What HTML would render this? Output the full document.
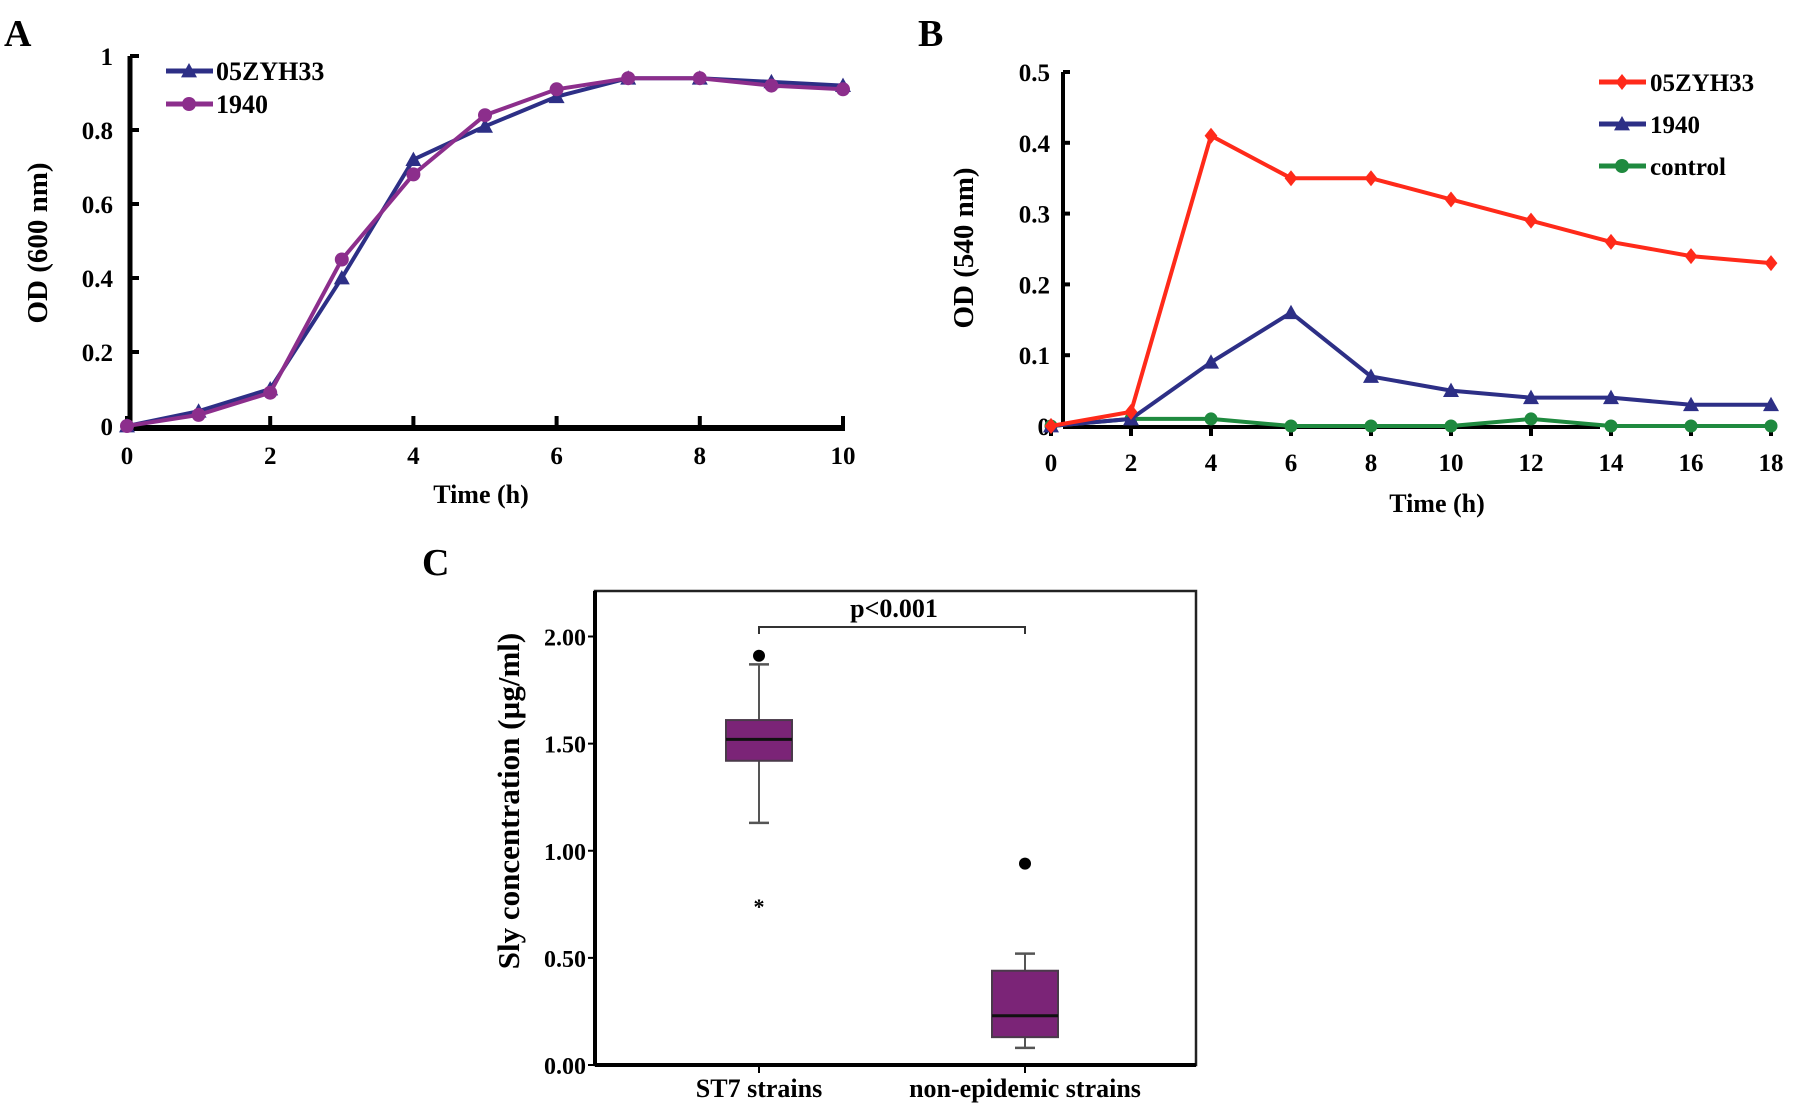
<!DOCTYPE html>
<html><head><meta charset="utf-8"><style>
html,body{margin:0;padding:0;background:#fff;}
svg{display:block;font-family:"Liberation Serif",serif;font-weight:bold;}
</style></head><body>
<svg id="fig" width="1795" height="1116" viewBox="0 0 1795 1116">
<text x="4" y="46" font-size="38">A</text>
<text x="918" y="46" font-size="38">B</text>
<text x="422" y="575" font-size="38">C</text>
<g id="A"></g>
<g id="B"></g>
<g id="C"></g>
</svg>
<script>
// Panel A data
const aTime=[0,1,2,3,4,5,6,7,8,9,10];
const aZYH=[0,0.04,0.10,0.40,0.72,0.81,0.89,0.94,0.94,0.93,0.92];
const a1940=[0,0.03,0.09,0.45,0.68,0.84,0.91,0.94,0.94,0.92,0.91];
const aYTicks=[0,0.2,0.4,0.6,0.8,1];
const aYTickLabels=["0","0.2","0.4","0.6","0.8","1"];
const aXTicks=[0,2,4,6,8,10];
// Panel B data
const bTime=[0,2,4,6,8,10,12,14,16,18];
const bZYH=[0,0.02,0.41,0.35,0.35,0.32,0.29,0.26,0.24,0.23];
const b1940=[0,0.01,0.09,0.16,0.07,0.05,0.04,0.04,0.03,0.03];
const bControl=[0,0.01,0.01,0,0,0,0.01,0,0,0];
const bYTicks=[0,0.1,0.2,0.3,0.4,0.5];
const bYTickLabels=["0","0.1","0.2","0.3","0.4","0.5"];
// Panel C data
const cCategories=["ST7 strains","non-epidemic strains"];
const cQ1=[1.42,0.13];
const cMedian=[1.52,0.23];
const cQ3=[1.61,0.44];
const cWhiskLow=[1.13,0.08];
const cWhiskHigh=[1.87,0.52];
const cOutlierDot=[1.91,0.94];
const cExtremeStar=[0.76,null];
const cYTicks=[0,0.5,1,1.5,2];
const cYTickLabels=["0.00","0.50","1.00","1.50","2.00"];

const NS="http://www.w3.org/2000/svg";
function mk(parent,tag,attrs,text){const e=document.createElementNS(NS,tag);for(const k in attrs)e.setAttribute(k,attrs[k]);if(text!==undefined)e.textContent=text;parent.appendChild(e);return e;}
function triangle(g,x,y,r,c){return mk(g,'polygon',{points:`${x},${y-r} ${x-r},${y+r*0.8} ${x+r},${y+r*0.8}`,fill:c});}
function diamond(g,x,y,r,c){return mk(g,'polygon',{points:`${x},${y-r} ${x+r*0.8},${y} ${x},${y+r} ${x-r*0.8},${y}`,fill:c});}

// ---------- Panel A ----------
(function(){
const g=document.getElementById('A');
const X=v=>127+v*(843-127)/10, Y=v=>426-v*(426-56);
let e;
e=mk(g,'line',{x1:X(0)+3,y1:Y(1),x2:X(0)+3,y2:Y(0)+3,stroke:'#000','stroke-width':5});

e=mk(g,'line',{x1:X(0),y1:Y(0)+2,x2:X(10)+2,y2:Y(0)+2,stroke:'#000','stroke-width':6});

aYTicks.forEach((t,i)=>{
 mk(g,'line',{x1:X(0)+3,y1:Y(t),x2:X(0)+12,y2:Y(t),stroke:'#000','stroke-width':4});
 e=mk(g,'text',{x:X(0)-14,y:Y(t)+9,'font-size':25,'text-anchor':'end'},aYTickLabels[i]);
 
});
aXTicks.forEach(t=>{
 mk(g,'line',{x1:X(t),y1:Y(0)-10,x2:X(t),y2:Y(0)+2,stroke:'#000','stroke-width':4});
 e=mk(g,'text',{x:X(t),y:Y(0)+38,'font-size':25,'text-anchor':'middle'},String(t));
 
});
e=mk(g,'text',{x:481,y:503,'font-size':26,'text-anchor':'middle'},'Time (h)');

e=mk(g,'text',{x:0,y:0,'font-size':29,'text-anchor':'middle',transform:'translate(47,243) rotate(-90)'},'OD (600 nm)');

const series=[[aZYH,'#2d2f86','tri','a-series-05zyh33'],[a1940,'#8c2e8c','dot','a-series-1940']];
series.forEach(([d,c,m,n])=>{
 e=mk(g,'polyline',{points:aTime.map((t,i)=>X(t)+','+Y(d[i])).join(' '),fill:'none',stroke:c,'stroke-width':4});
 
 aTime.forEach((t,i)=>{ if(m==='tri') triangle(g,X(t),Y(d[i]),8,c); else mk(g,'circle',{cx:X(t),cy:Y(d[i]),r:7,fill:c}); });
});
e=mk(g,'g',{});
mk(e,'line',{x1:166,y1:71,x2:213,y2:71,stroke:'#2d2f86','stroke-width':5});triangle(e,189,71,8,'#2d2f86');
mk(e,'text',{x:216,y:80,'font-size':26},'05ZYH33');
mk(e,'line',{x1:166,y1:104,x2:213,y2:104,stroke:'#8c2e8c','stroke-width':5});mk(e,'circle',{cx:189,cy:104,r:7,fill:'#8c2e8c'});
mk(e,'text',{x:216,y:113,'font-size':26},'1940');
})();

// ---------- Panel B ----------
(function(){
const g=document.getElementById('B');
const X=v=>1051+v*(1771-1051)/18, Y=v=>426-v*(426-72)/0.5;
let e;
e=mk(g,'line',{x1:1063,y1:Y(0.5),x2:1063,y2:Y(0),stroke:'#000','stroke-width':4});

e=mk(g,'line',{x1:1063,y1:Y(0)+1,x2:1600,y2:Y(0)+1,stroke:'#000','stroke-width':4});

bYTicks.forEach((t,i)=>{
 mk(g,'line',{x1:1063,y1:Y(t),x2:1070,y2:Y(t),stroke:'#000','stroke-width':4});
 e=mk(g,'text',{x:1050,y:Y(t)+9,'font-size':25,'text-anchor':'end'},bYTickLabels[i]);
 
});
bTime.forEach(t=>{
 mk(g,'line',{x1:X(t),y1:Y(0),x2:X(t),y2:Y(0)+10,stroke:'#000','stroke-width':4});
 e=mk(g,'text',{x:X(t),y:Y(0)+45,'font-size':25,'text-anchor':'middle'},String(t));
 
});
e=mk(g,'text',{x:1437,y:512,'font-size':26,'text-anchor':'middle'},'Time (h)');

e=mk(g,'text',{x:0,y:0,'font-size':29,'text-anchor':'middle',transform:'translate(973,248) rotate(-90)'},'OD (540 nm)');

const series=[[bControl,'#1f8a3f','dot','b-series-control'],[b1940,'#2d2f86','tri','b-series-1940'],[bZYH,'#ff2a1a','dia','b-series-05zyh33']];
series.forEach(([d,c,m,n])=>{
 e=mk(g,'polyline',{points:bTime.map((t,i)=>X(t)+','+Y(d[i])).join(' '),fill:'none',stroke:c,'stroke-width':4});
 
 bTime.forEach((t,i)=>{ if(m==='tri') triangle(g,X(t),Y(d[i]),8,c); else if(m==='dia') diamond(g,X(t),Y(d[i]),8,c); else mk(g,'circle',{cx:X(t),cy:Y(d[i]),r:6.5,fill:c}); });
});
e=mk(g,'g',{});
mk(e,'line',{x1:1599,y1:82,x2:1646,y2:82,stroke:'#ff2a1a','stroke-width':5});diamond(e,1622,82,8,'#ff2a1a');
mk(e,'text',{x:1650,y:91,'font-size':25},'05ZYH33');
mk(e,'line',{x1:1599,y1:124,x2:1646,y2:124,stroke:'#2d2f86','stroke-width':5});triangle(e,1622,124,8,'#2d2f86');
mk(e,'text',{x:1650,y:133,'font-size':25},'1940');
mk(e,'line',{x1:1599,y1:166,x2:1646,y2:166,stroke:'#1f8a3f','stroke-width':5});mk(e,'circle',{cx:1622,cy:166,r:7,fill:'#1f8a3f'});
mk(e,'text',{x:1650,y:175,'font-size':25},'control');
})();

// ---------- Panel C ----------
(function(){
const g=document.getElementById('C');
const Y=v=>1065-v*(1065-636.5)/2;
const cx=[759,1025], hw=33;
let e;
e=mk(g,'rect',{x:595,y:591,width:601,height:474,fill:'none',stroke:'#222','stroke-width':2.5});

mk(g,'line',{x1:595,y1:1065,x2:1196,y2:1065,stroke:'#000','stroke-width':4});
mk(g,'line',{x1:595,y1:591,x2:595,y2:1065,stroke:'#000','stroke-width':4});
cYTicks.forEach((t,i)=>{
 mk(g,'line',{x1:588,y1:Y(t),x2:595,y2:Y(t),stroke:'#000','stroke-width':2});
 e=mk(g,'text',{x:586,y:Y(t)+9,'font-size':24,'text-anchor':'end'},cYTickLabels[i]);
 
});
e=mk(g,'text',{x:0,y:0,'font-size':31,'text-anchor':'middle',transform:'translate(519,801) rotate(-90)'},'Sly concentration (\u00b5g/ml)');

cCategories.forEach((c,i)=>{
 mk(g,'line',{x1:cx[i],y1:1065,x2:cx[i],y2:1073,stroke:'#000','stroke-width':2});
 e=mk(g,'text',{x:cx[i],y:1097,'font-size':26,'text-anchor':'middle'},c);
 
 const b=mk(g,'g',{});
 
 
 mk(b,'line',{x1:cx[i],y1:Y(cWhiskHigh[i]),x2:cx[i],y2:Y(cWhiskLow[i]),stroke:'#555','stroke-width':2});
 mk(b,'line',{x1:cx[i]-10,y1:Y(cWhiskHigh[i]),x2:cx[i]+10,y2:Y(cWhiskHigh[i]),stroke:'#555','stroke-width':2.5});
 mk(b,'line',{x1:cx[i]-10,y1:Y(cWhiskLow[i]),x2:cx[i]+10,y2:Y(cWhiskLow[i]),stroke:'#555','stroke-width':2.5});
 mk(b,'rect',{x:cx[i]-hw,y:Y(cQ3[i]),width:hw*2,height:Y(cQ1[i])-Y(cQ3[i]),fill:'#7b2477',stroke:'#4a3a4a','stroke-width':2});
 mk(b,'line',{x1:cx[i]-hw,y1:Y(cMedian[i]),x2:cx[i]+hw,y2:Y(cMedian[i]),stroke:'#111','stroke-width':3});
 if(cOutlierDot[i]!=null){const o=mk(g,'circle',{cx:cx[i],cy:Y(cOutlierDot[i]),r:6,fill:'#000'});
  }
 if(cExtremeStar[i]!=null){const s=mk(g,'text',{x:cx[i],y:Y(cExtremeStar[i])+12,'font-size':22,'text-anchor':'middle'},'*');
  }
});
e=mk(g,'path',{d:`M${cx[0]},634 V627 H${cx[1]} V634`,fill:'none',stroke:'#333','stroke-width':2});

e=mk(g,'text',{x:894,y:617,'font-size':26,'text-anchor':'middle'},'p<0.001');

})();
</script>
</body></html>
